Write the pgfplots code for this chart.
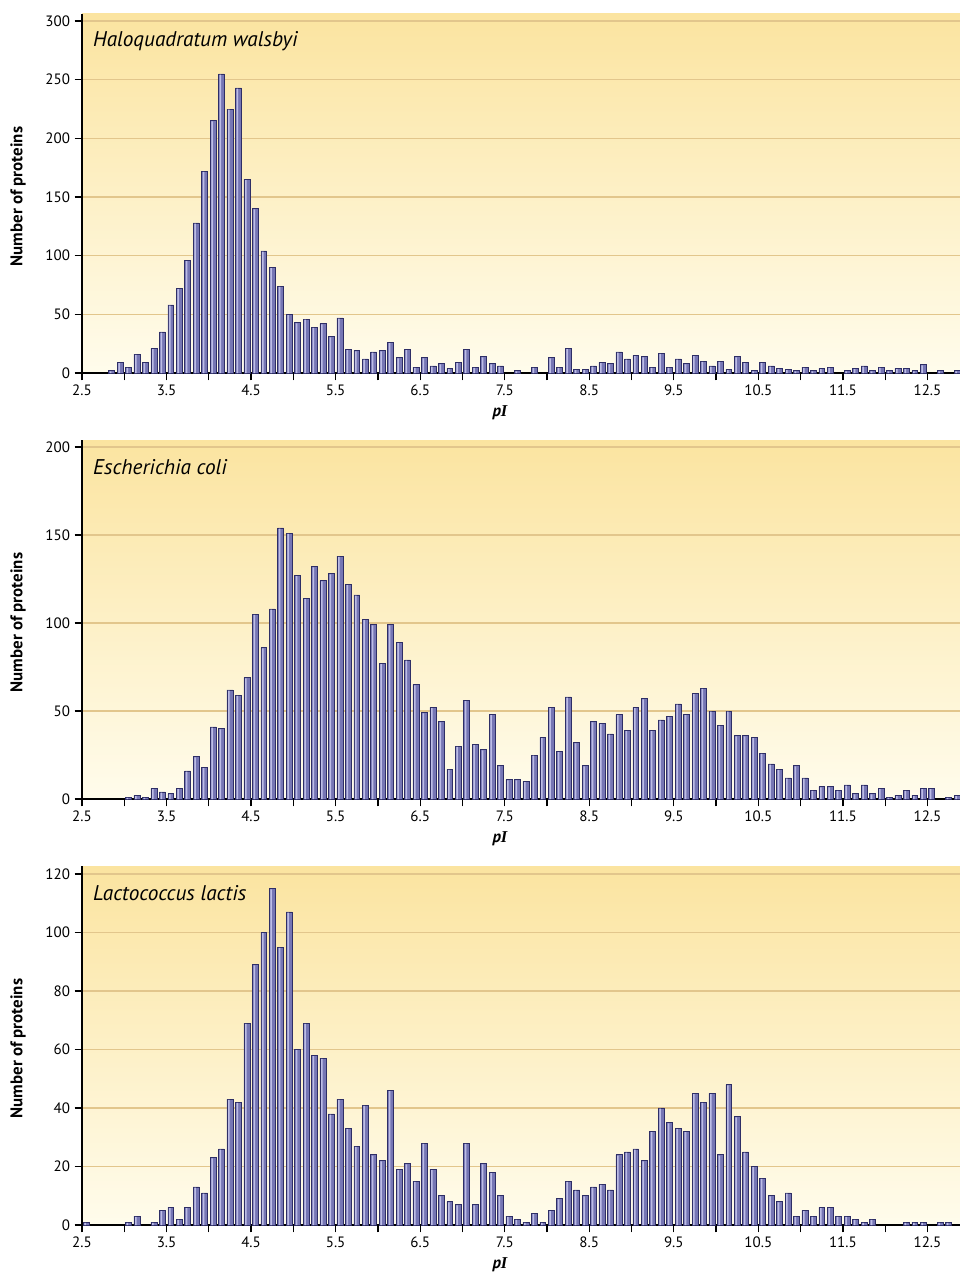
\documentclass[border=0pt]{standalone}
\usepackage{fontspec}
\setmainfont{PT Sans}
\newfontfamily\serifI{Liberation Serif}
\usepackage{pgfplots}
\usepackage{pgfplotstable}
\pgfplotsset{compat=1.18}
\definecolor{bgTop}{HTML}{FBE4A0}
\definecolor{bgBot}{HTML}{FFFCEC}
\definecolor{gridC}{HTML}{E2C68C}
\definecolor{barEdge}{HTML}{2E2E66}
\definecolor{barMid}{HTML}{7676B4}
\definecolor{barLight}{HTML}{BDBDE6}
\tikzset{ttl/.style={anchor=west, inner sep=0pt, font=\itshape\fontsize{16}{18}\selectfont}}
\pgfplotsset{
 panel/.style={
  scale only axis, width=658.5bp, height=269.25bp,
  xmin=2.5, xmax=12.885, ymin=0,
  axis x line*=bottom, axis y line*=left,
  axis line style={black, line width=1.1bp},
  tick align=outside, major tick length=5.5bp, minor tick length=5.5bp,
  tick style={black, line width=0.9bp},
  xtick={2.5,3.5,4.5,5.5,6.5,7.5,8.5,9.5,10.5,11.5,12.5},
  minor xtick={3,4,5,6,7,8,9,10,11,12},
  xticklabel style={/pgf/number format/.cd, fixed, fixed zerofill, precision=1},
  /pgf/number format/assume math mode=true,
  tick label style={font=\fontsize{11.3}{13}\selectfont},
  ymajorgrids, grid style={gridC, line width=0.9bp},
  axis background/.style={top color=bgTop, bottom color=bgBot},
  ylabel={Number of proteins},
  ylabel style={font=\bfseries\fontsize{12.7}{14}\selectfont, at={(axis description cs:-0.0729,0.4916)}, anchor=center},
  xlabel={\textbf{\textit{p}}{\serifI\bfseries\itshape I}},
  xlabel style={font=\fontsize{12.5}{14}\selectfont, at={(axis description cs:0.476,-0.1115)}, anchor=center},
  ybar,
 },
 barsty/.style={draw=barEdge, line width=0.45bp, fill=barMid, bar width=0.07, bar shift=0},
 histy/.style={draw=none, fill=barLight, bar width=0.018, bar shift=-0.012},
}
\pgfplotstableread{
x y
2.85 2
2.95 9
3.05 5
3.15 16
3.25 9
3.35 21
3.45 35
3.55 58
3.65 72
3.75 96
3.85 128
3.95 172
4.05 215
4.15 255
4.25 225
4.35 243
4.45 165
4.55 140
4.65 104
4.75 90
4.85 74
4.95 50
5.05 43
5.15 46
5.25 39
5.35 42
5.45 31
5.55 47
5.65 20
5.75 19
5.85 12
5.95 18
6.05 19
6.15 26
6.25 13
6.35 20
6.45 5
6.55 13
6.65 6
6.75 8
6.85 4
6.95 9
7.05 20
7.15 5
7.25 14
7.35 8
7.45 6
7.65 2
7.85 5
8.05 13
8.15 5
8.25 21
8.35 3
8.45 3
8.55 6
8.65 9
8.75 8
8.85 18
8.95 12
9.05 15
9.15 14
9.25 5
9.35 17
9.45 5
9.55 12
9.65 8
9.75 15
9.85 10
9.95 6
10.05 10
10.15 3
10.25 14
10.35 9
10.45 2
10.55 9
10.65 6
10.75 4
10.85 3
10.95 2
11.05 5
11.15 2
11.25 4
11.35 5
11.55 2
11.65 4
11.75 6
11.85 2
11.95 5
12.05 2
12.15 4
12.25 4
12.35 2
12.45 7
12.65 2
12.85 2
}\halo
\pgfplotstableread{
x y
3.05 1
3.15 2
3.25 1
3.35 6
3.45 4
3.55 3
3.65 6
3.75 16
3.85 24
3.95 18
4.05 41
4.15 40
4.25 62
4.35 59
4.45 69
4.55 105
4.65 86
4.75 108
4.85 154
4.95 151
5.05 127
5.15 114
5.25 132
5.35 124
5.45 128
5.55 138
5.65 122
5.75 116
5.85 102
5.95 99
6.05 77
6.15 99
6.25 89
6.35 79
6.45 65
6.55 49
6.65 52
6.75 44
6.85 17
6.95 30
7.05 56
7.15 31
7.25 28
7.35 48
7.45 19
7.55 11
7.65 11
7.75 10
7.85 25
7.95 35
8.05 52
8.15 27
8.25 58
8.35 32
8.45 19
8.55 44
8.65 43
8.75 37
8.85 48
8.95 39
9.05 52
9.15 57
9.25 39
9.35 45
9.45 47
9.55 54
9.65 48
9.75 60
9.85 63
9.95 50
10.05 42
10.15 50
10.25 36
10.35 36
10.45 35
10.55 26
10.65 20
10.75 17
10.85 12
10.95 19
11.05 12
11.15 5
11.25 7
11.35 7
11.45 5
11.55 8
11.65 3
11.75 8
11.85 3
11.95 6
12.05 1
12.15 2
12.25 5
12.35 2
12.45 6
12.55 6
12.75 1
12.85 2
}\ecoli
\pgfplotstableread{
x y
2.55 1
3.05 1
3.15 3
3.35 1
3.45 5
3.55 6
3.65 2
3.75 6
3.85 13
3.95 11
4.05 23
4.15 26
4.25 43
4.35 42
4.45 69
4.55 89
4.65 100
4.75 115
4.85 95
4.95 107
5.05 60
5.15 69
5.25 58
5.35 57
5.45 38
5.55 43
5.65 33
5.75 27
5.85 41
5.95 24
6.05 22
6.15 46
6.25 19
6.35 21
6.45 15
6.55 28
6.65 19
6.75 10
6.85 8
6.95 7
7.05 28
7.15 7
7.25 21
7.35 18
7.45 10
7.55 3
7.65 2
7.75 1
7.85 4
7.95 1
8.05 5
8.15 9
8.25 15
8.35 12
8.45 10
8.55 13
8.65 14
8.75 12
8.85 24
8.95 25
9.05 26
9.15 22
9.25 32
9.35 40
9.45 35
9.55 33
9.65 32
9.75 45
9.85 42
9.95 45
10.05 24
10.15 48
10.25 37
10.35 25
10.45 20
10.55 16
10.65 10
10.75 8
10.85 11
10.95 3
11.05 5
11.15 3
11.25 6
11.35 6
11.45 3
11.55 3
11.65 2
11.75 1
11.85 2
12.25 1
12.35 1
12.45 1
12.65 1
12.75 1
}\lacto
\begin{document}
\begin{tikzpicture}
\path[use as bounding box] (0,0) rectangle (720bp,-956.25bp);
% Panel 1
\begin{axis}[panel, at={(61.5bp,-279.75bp)}, anchor=south west, ymax=306, ytick={0,50,...,300}]
\addplot[barsty] table {\halo};
\addplot[histy] table[y expr=\thisrow{y}-0.6] {\halo};
\node[ttl] at (rel axis cs:0.0125,0.925) {Haloquadratum walsbyi};
\end{axis}
% Panel 2
\begin{axis}[panel, at={(61.5bp,-599.25bp)}, anchor=south west, ymax=204, ytick={0,50,...,200}]
\addplot[barsty] table {\ecoli};
\addplot[histy] table[y expr=\thisrow{y}-0.4] {\ecoli};
\node[ttl] at (rel axis cs:0.0125,0.925) {Escherichia coli};
\end{axis}
% Panel 3
\begin{axis}[panel, at={(61.5bp,-918.75bp)}, anchor=south west, ymax=122.7, ytick={0,20,...,120}]
\addplot[barsty] table {\lacto};
\addplot[histy] table[y expr=\thisrow{y}-0.25] {\lacto};
\node[ttl] at (rel axis cs:0.0125,0.925) {Lactococcus lactis};
\end{axis}
\end{tikzpicture}
\end{document}
